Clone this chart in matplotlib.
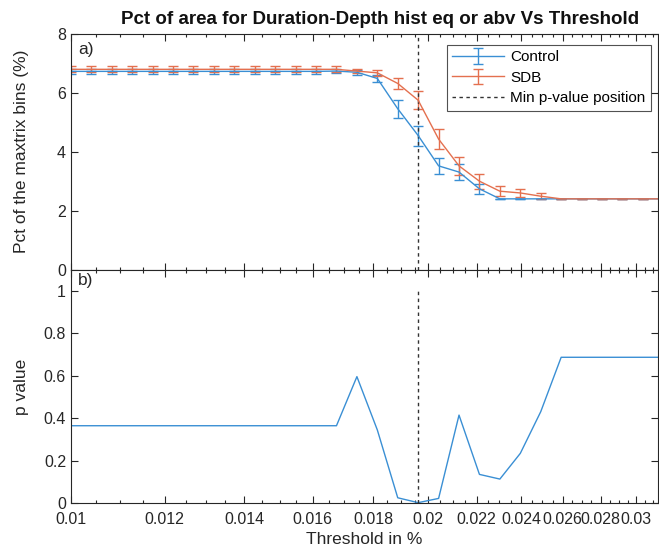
import matplotlib
matplotlib.use("Agg")
import matplotlib.pyplot as plt
from matplotlib.ticker import FixedLocator, NullFormatter
import numpy as np

plt.rcParams['font.family'] = ['Liberation Sans', 'DejaVu Sans']

# Threshold values (%)
thresholds = [0.010000, 0.010405, 0.010826, 0.011264, 0.011720, 0.012195,
              0.012689, 0.013203, 0.013738, 0.014294, 0.014873, 0.015475,
              0.016102, 0.016754, 0.017433, 0.018139, 0.018873, 0.019637,
              0.020433, 0.021260, 0.022121, 0.023017, 0.023950, 0.024920,
              0.025929, 0.026979, 0.028072, 0.029209, 0.030392, 0.031623]

control_mean = [6.73] * 13 + [6.74, 6.70, 6.49, 5.46, 4.55, 3.52, 3.31, 2.74] + [2.40] * 9
control_err = [0.08] * 15 + [0.11, 0.30, 0.34, 0.28, 0.27, 0.17] + [0.0] * 9

sdb_mean = [6.80] * 14 + [6.74, 6.68, 6.32, 5.75, 4.43, 3.52, 3.00, 2.66, 2.60, 2.49] + [2.40] * 6
sdb_err = [0.10] * 14 + [0.08, 0.10, 0.18, 0.31, 0.34, 0.31, 0.26, 0.16, 0.13, 0.11] + [0.0] * 6

p_values = [0.365] * 14 + [0.596, 0.345, 0.026, 0.003, 0.023, 0.415,
                           0.136, 0.114, 0.235, 0.431] + [0.687] * 6

major_ticks = [0.01, 0.012, 0.014, 0.016, 0.018, 0.02, 0.022, 0.024, 0.026, 0.028, 0.03]
major_labels = ['0.01', '0.012', '0.014', '0.016', '0.018', '0.02', '0.022',
                '0.024', '0.026', '0.028', '0.03']

c_blue = '#3a8fd4'
c_red = '#e4704f'
c_axis = '#262626'

x_min_p = thresholds[int(np.argmin(p_values))]

fig = plt.figure(figsize=(6.59, 5.5), dpi=100)
ax1 = fig.add_axes([0.1077, 0.510, 0.8908, 0.4282])
ax2 = fig.add_axes([0.1077, 0.0849, 0.8908, 0.4251])

minor_ticks = [v / 10000 for v in range(100, 316, 5) if v % 20 != 0]


def style_axis(ax):
    ax.set_xscale('log')
    ax.set_xlim(0.01, 0.0313)
    ax.xaxis.set_major_locator(FixedLocator(major_ticks))
    ax.xaxis.set_minor_locator(FixedLocator(minor_ticks))
    ax.xaxis.set_minor_formatter(NullFormatter())
    ax.tick_params(which='both', direction='in', top=True, right=True,
                   colors=c_axis, labelsize=11.5, width=0.8)
    ax.tick_params(which='major', length=5)
    ax.tick_params(which='minor', length=2.5)
    ax.tick_params(axis='x', pad=6)
    for s in ax.spines.values():
        s.set_color(c_axis)
        s.set_linewidth(0.8)


# Upper panel: area percentage with error bars
style_axis(ax1)
h_ctrl = ax1.errorbar(thresholds, control_mean, yerr=control_err, color=c_blue,
                      lw=1.0, capsize=3.5, capthick=1.0, elinewidth=1.0, label='Control')
h_sdb = ax1.errorbar(thresholds, sdb_mean, yerr=sdb_err, color=c_red,
                     lw=1.0, capsize=3.5, capthick=1.0, elinewidth=1.0, label='SDB')
h_min, = ax1.plot([x_min_p, x_min_p], [0, 8], color='#333333', lw=1.0,
                  ls=(0, (2.5, 2.5)), label='Min p-value position')
ax1.set_ylim(0, 8)
ax1.set_yticks([0, 2, 4, 6, 8])
ax1.set_xticklabels([])
ax1.set_ylabel('Pct of the maxtrix bins (%)', fontsize=12.5, color=c_axis)
ax1.yaxis.set_label_coords(-0.072, 0.5)
ax1.text(0.012, 0.965, 'a)', transform=ax1.transAxes, fontsize=12.5,
         va='top', ha='left', color=c_axis)
ax1.set_title('Pct of area for Duration-Depth hist eq or abv Vs Threshold',
              fontsize=13.5, fontweight='bold', color='#111111', pad=7, x=0.527)
leg = ax1.legend(handles=[h_ctrl, h_sdb, h_min], loc='upper right', fontsize=11,
                 frameon=True, fancybox=False, edgecolor=c_axis,
                 handlelength=3.4, borderpad=0.35, labelspacing=0.42,
                 handletextpad=0.4, borderaxespad=0.0,
                 bbox_to_anchor=(0.988, 0.953))
leg.get_frame().set_linewidth(0.8)

# Lower panel: p value
style_axis(ax2)
ax2.plot(thresholds, p_values, color=c_blue, lw=1.0)
ax2.plot([x_min_p, x_min_p], [0, 1], color='#333333', lw=1.0, ls=(0, (2.5, 2.5)))
ax2.set_ylim(0, 1.1)
ax2.set_yticks([0, 0.2, 0.4, 0.6, 0.8, 1])
ax2.set_yticklabels(['0', '0.2', '0.4', '0.6', '0.8', '1'])
ax2.set_xticklabels(major_labels)
ax2.set_ylabel('p value', fontsize=12.5, color=c_axis)
ax2.yaxis.set_label_coords(-0.072, 0.5)
ax2.set_xlabel('Threshold in %', fontsize=12.5, color=c_axis, labelpad=4)
ax2.text(0.012, 0.985, 'b)', transform=ax2.transAxes, fontsize=12.5,
         va='top', ha='left', color=c_axis)

fig.savefig('out.png', dpi=100)
